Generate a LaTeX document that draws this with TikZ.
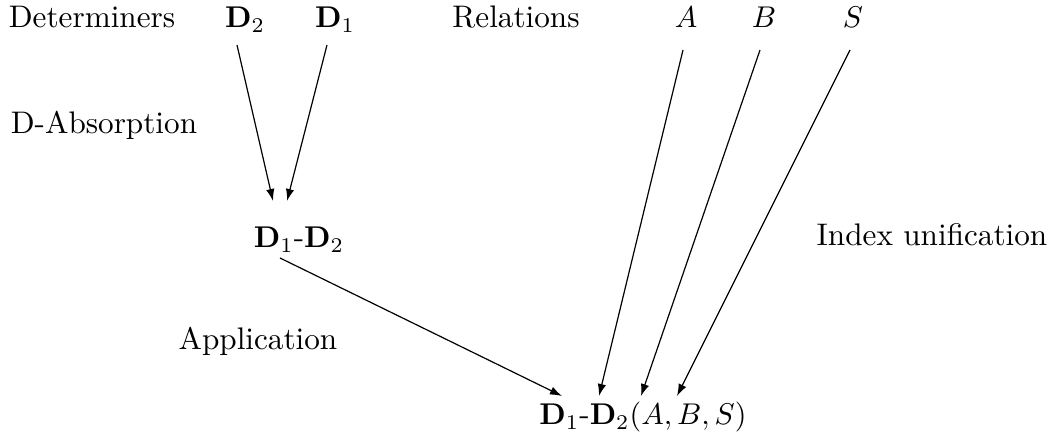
\documentclass[tikz,border=0pt]{standalone}
\usetikzlibrary{arrows.meta}
\begin{document}
\begin{tikzpicture}[x=0.33333pt,y=-0.33333pt,
  lbl/.style={inner sep=0pt,anchor=base,font=\fontsize{10.4}{12}\selectfont},
  arr/.style={-{Latex[length=4pt,width=2.8pt]},line width=0.4pt}]
\useasboundingbox (0,0) rectangle (1053,439);
\node[lbl] (det) at (92,28) {Determiners};
\node[lbl] (d2) at (245,28) {$\mathbf{D}_2$};
\node[lbl] (d1) at (335,28) {$\mathbf{D}_1$};
\node[lbl] (rel) at (516,28) {Relations};
\node[lbl] (a) at (686,28) {$A$};
\node[lbl] (b) at (764,28) {$B$};
\node[lbl] (s) at (853,28) {$S$};
\node[lbl] (dabs) at (104,134) {D-Absorption};
\node[lbl] (mid) at (299,248) {$\mathbf{D}_1$-$\mathbf{D}_2$};
\node[lbl] (idx) at (932,246) {Index unification};
\node[lbl] (app) at (258,350) {Application};
\node[lbl] (res) at (643,425) {$\mathbf{D}_1$-$\mathbf{D}_2(A,B,S)$};
\coordinate (d2s) at (237,45);
\coordinate (d1s) at (327,45);
\coordinate (m1) at (273,201);
\coordinate (m2) at (287,201);
\coordinate (mids) at (280,258);
\coordinate (r0) at (562,396);
\coordinate (as) at (683,50);
\coordinate (bs) at (760,50);
\coordinate (ss) at (850,50);
\coordinate (r1) at (599,396);
\coordinate (r2) at (641,396);
\coordinate (r3) at (677,396);
\draw[arr] (d2s) -- (m1);
\draw[arr] (d1s) -- (m2);
\draw[arr] (mids) -- (r0);
\draw[arr] (as) -- (r1);
\draw[arr] (bs) -- (r2);
\draw[arr] (ss) -- (r3);
\end{tikzpicture}
\end{document}
